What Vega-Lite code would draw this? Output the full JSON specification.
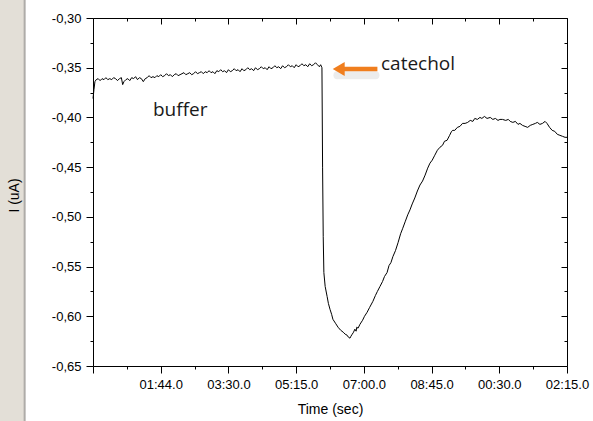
{
  "$schema": "https://vega.github.io/schema/vega-lite/v6.json",
  "width": 474,
  "height": 348,
  "autosize": {"type": "none"},
  "padding": {"left": 93, "top": 18, "right": 26, "bottom": 55},
  "background": "white",
  "view": {"stroke": null},
  "config": {
    "axis": {
      "domainColor": "#000000",
      "tickColor": "#000000",
      "labelColor": "#000000",
      "titleColor": "#000000",
      "labelFont": "Liberation Sans",
      "titleFont": "Liberation Sans",
      "labelFontSize": 13,
      "titleFontSize": 14,
      "titleFontWeight": "normal",
      "grid": false
    }
  },
  "datasets": {
    "trace": [
      {"t": 0, "i": -0.381}, {"t": 1.5, "i": -0.372}, {"t": 3, "i": -0.364}, {"t": 5, "i": -0.362},
      {"t": 8, "i": -0.361}, {"t": 11, "i": -0.363}, {"t": 14, "i": -0.361}, {"t": 17, "i": -0.362},
      {"t": 20, "i": -0.36}, {"t": 23, "i": -0.362}, {"t": 26, "i": -0.361}, {"t": 29, "i": -0.362},
      {"t": 32, "i": -0.36}, {"t": 35, "i": -0.361}, {"t": 38, "i": -0.363}, {"t": 41, "i": -0.361},
      {"t": 44, "i": -0.36}, {"t": 46, "i": -0.367}, {"t": 48, "i": -0.364}, {"t": 51, "i": -0.362},
      {"t": 54, "i": -0.361}, {"t": 57, "i": -0.363}, {"t": 60, "i": -0.36}, {"t": 63, "i": -0.361},
      {"t": 66, "i": -0.359}, {"t": 69, "i": -0.362}, {"t": 72, "i": -0.36}, {"t": 75, "i": -0.361},
      {"t": 78, "i": -0.364}, {"t": 81, "i": -0.361}, {"t": 84, "i": -0.36}, {"t": 87, "i": -0.358},
      {"t": 90, "i": -0.36}, {"t": 93, "i": -0.359}, {"t": 96, "i": -0.36}, {"t": 99, "i": -0.358},
      {"t": 102, "i": -0.359}, {"t": 105, "i": -0.357}, {"t": 108, "i": -0.359}, {"t": 111, "i": -0.358},
      {"t": 114, "i": -0.356}, {"t": 117, "i": -0.358}, {"t": 120, "i": -0.357}, {"t": 123, "i": -0.359},
      {"t": 126, "i": -0.357}, {"t": 129, "i": -0.356}, {"t": 132, "i": -0.358}, {"t": 135, "i": -0.357},
      {"t": 138, "i": -0.356}, {"t": 141, "i": -0.355}, {"t": 144, "i": -0.357}, {"t": 147, "i": -0.356},
      {"t": 150, "i": -0.355}, {"t": 153, "i": -0.357}, {"t": 156, "i": -0.356}, {"t": 159, "i": -0.354},
      {"t": 162, "i": -0.356}, {"t": 165, "i": -0.355}, {"t": 168, "i": -0.354}, {"t": 171, "i": -0.356},
      {"t": 174, "i": -0.354}, {"t": 177, "i": -0.355}, {"t": 180, "i": -0.353}, {"t": 183, "i": -0.355},
      {"t": 186, "i": -0.354}, {"t": 189, "i": -0.356}, {"t": 192, "i": -0.353}, {"t": 195, "i": -0.354},
      {"t": 198, "i": -0.352}, {"t": 201, "i": -0.354}, {"t": 204, "i": -0.353}, {"t": 207, "i": -0.355},
      {"t": 210, "i": -0.352}, {"t": 213, "i": -0.354}, {"t": 216, "i": -0.353}, {"t": 219, "i": -0.351},
      {"t": 222, "i": -0.353}, {"t": 225, "i": -0.352}, {"t": 228, "i": -0.354}, {"t": 231, "i": -0.351},
      {"t": 234, "i": -0.353}, {"t": 237, "i": -0.352}, {"t": 240, "i": -0.35}, {"t": 243, "i": -0.352},
      {"t": 246, "i": -0.351}, {"t": 249, "i": -0.353}, {"t": 252, "i": -0.35}, {"t": 255, "i": -0.352},
      {"t": 258, "i": -0.351}, {"t": 261, "i": -0.349}, {"t": 264, "i": -0.351}, {"t": 267, "i": -0.35},
      {"t": 270, "i": -0.352}, {"t": 273, "i": -0.349}, {"t": 276, "i": -0.351}, {"t": 279, "i": -0.35},
      {"t": 282, "i": -0.348}, {"t": 285, "i": -0.35}, {"t": 288, "i": -0.349}, {"t": 291, "i": -0.351},
      {"t": 294, "i": -0.348}, {"t": 297, "i": -0.35}, {"t": 300, "i": -0.349}, {"t": 303, "i": -0.347},
      {"t": 306, "i": -0.349}, {"t": 309, "i": -0.348}, {"t": 312, "i": -0.35}, {"t": 315, "i": -0.347},
      {"t": 318, "i": -0.349}, {"t": 321, "i": -0.348}, {"t": 324, "i": -0.346}, {"t": 327, "i": -0.348},
      {"t": 330, "i": -0.347}, {"t": 333, "i": -0.349}, {"t": 336, "i": -0.346}, {"t": 339, "i": -0.348},
      {"t": 342, "i": -0.347}, {"t": 345, "i": -0.345}, {"t": 348, "i": -0.347}, {"t": 351, "i": -0.349},
      {"t": 353, "i": -0.347}, {"t": 355, "i": -0.35}, {"t": 356, "i": -0.45}, {"t": 357, "i": -0.52},
      {"t": 358, "i": -0.556}, {"t": 360, "i": -0.57}, {"t": 363, "i": -0.58}, {"t": 365, "i": -0.587},
      {"t": 367.5, "i": -0.593}, {"t": 370, "i": -0.598}, {"t": 372, "i": -0.603}, {"t": 376, "i": -0.607},
      {"t": 380, "i": -0.611}, {"t": 384, "i": -0.614}, {"t": 388, "i": -0.616}, {"t": 391, "i": -0.618},
      {"t": 394, "i": -0.619}, {"t": 396, "i": -0.621}, {"t": 398.5, "i": -0.622}, {"t": 400, "i": -0.62},
      {"t": 402, "i": -0.618}, {"t": 404, "i": -0.616}, {"t": 406, "i": -0.613}, {"t": 408, "i": -0.615},
      {"t": 409, "i": -0.611}, {"t": 411, "i": -0.612}, {"t": 414, "i": -0.608}, {"t": 418, "i": -0.604},
      {"t": 421, "i": -0.6}, {"t": 425, "i": -0.596}, {"t": 429, "i": -0.591}, {"t": 434, "i": -0.585},
      {"t": 438, "i": -0.579}, {"t": 441, "i": -0.575}, {"t": 445, "i": -0.57}, {"t": 449, "i": -0.565},
      {"t": 452, "i": -0.56}, {"t": 456, "i": -0.556}, {"t": 459, "i": -0.549}, {"t": 462, "i": -0.546},
      {"t": 465, "i": -0.54}, {"t": 469, "i": -0.534}, {"t": 473, "i": -0.526}, {"t": 477, "i": -0.517},
      {"t": 480, "i": -0.512}, {"t": 484, "i": -0.505}, {"t": 488, "i": -0.498}, {"t": 491.5, "i": -0.493},
      {"t": 495, "i": -0.487}, {"t": 499, "i": -0.481}, {"t": 503, "i": -0.474}, {"t": 507, "i": -0.468},
      {"t": 511, "i": -0.464}, {"t": 515, "i": -0.458}, {"t": 519, "i": -0.451}, {"t": 522.5, "i": -0.446},
      {"t": 526, "i": -0.443}, {"t": 530, "i": -0.438}, {"t": 534, "i": -0.433}, {"t": 538, "i": -0.43},
      {"t": 542, "i": -0.428}, {"t": 545, "i": -0.424}, {"t": 549, "i": -0.423}, {"t": 553, "i": -0.418},
      {"t": 556, "i": -0.414}, {"t": 558, "i": -0.413}, {"t": 561, "i": -0.413}, {"t": 565, "i": -0.41},
      {"t": 569, "i": -0.409}, {"t": 573, "i": -0.406}, {"t": 577, "i": -0.406}, {"t": 581, "i": -0.405},
      {"t": 585, "i": -0.403}, {"t": 589, "i": -0.404}, {"t": 592, "i": -0.401}, {"t": 596, "i": -0.402},
      {"t": 600, "i": -0.4}, {"t": 603, "i": -0.401}, {"t": 607, "i": -0.399}, {"t": 611, "i": -0.401},
      {"t": 616, "i": -0.4}, {"t": 620, "i": -0.402}, {"t": 624, "i": -0.401}, {"t": 628, "i": -0.403},
      {"t": 631, "i": -0.402}, {"t": 635, "i": -0.402}, {"t": 640, "i": -0.403}, {"t": 644, "i": -0.402},
      {"t": 647, "i": -0.404}, {"t": 651, "i": -0.405}, {"t": 655, "i": -0.404}, {"t": 659, "i": -0.407},
      {"t": 662, "i": -0.406}, {"t": 666, "i": -0.408}, {"t": 670, "i": -0.409}, {"t": 674, "i": -0.41},
      {"t": 678, "i": -0.408}, {"t": 682, "i": -0.407}, {"t": 686, "i": -0.406}, {"t": 689, "i": -0.405},
      {"t": 693, "i": -0.407}, {"t": 697, "i": -0.406}, {"t": 701, "i": -0.404}, {"t": 704, "i": -0.406},
      {"t": 708, "i": -0.41}, {"t": 712, "i": -0.413}, {"t": 716, "i": -0.414}, {"t": 720, "i": -0.417},
      {"t": 724, "i": -0.418}, {"t": 728, "i": -0.419}, {"t": 732, "i": -0.42}, {"t": 735, "i": -0.42}
    ]
  },
  "resolve": {"axis": {"x": "independent", "y": "independent"}},
  "layer": [
    {
      "data": {"values": [{"x1": -150, "x2": -106, "y1": -0.27, "y2": -0.72}]},
      "mark": {"type": "rect", "color": "#e3dfd7", "stroke": "#aeaca8", "strokeWidth": 2},
      "encoding": {
        "x": {"field": "x1", "type": "quantitative", "scale": {"domain": [0, 735], "nice": false, "zero": false}, "axis": null},
        "x2": {"field": "x2"},
        "y": {"field": "y1", "type": "quantitative", "scale": {"domain": [-0.65, -0.3], "nice": false, "zero": false}, "axis": null},
        "y2": {"field": "y2"}
      }
    },
    {
      "data": {"name": "trace"},
      "mark": {"type": "line", "color": "#000000", "strokeWidth": 1},
      "encoding": {
        "x": {
          "field": "t", "type": "quantitative",
          "scale": {"domain": [0, 735], "nice": false, "zero": false},
          "axis": {
            "orient": "bottom",
            "title": "Time (sec)",
            "zindex": 2,
            "values": [0, 52.5, 105, 157.5, 210, 262.5, 315, 367.5, 420, 472.5, 525, 577.5, 630, 682.5, 735],
            "labelExpr": "datum.value==105?'01:44.0':datum.value==210?'03:30.0':datum.value==315?'05:15.0':datum.value==420?'07:00.0':datum.value==525?'08:45.0':datum.value==630?'00:30.0':datum.value==735?'02:15.0':''",
            "tickSize": {"condition": {"test": "datum.value % 105 == 0", "value": 7}, "value": 3},
            "labelPadding": 5,
            "labelFlush": false,
            "labelOverlap": false,
            "titlePadding": 11
          }
        },
        "y": {
          "field": "i", "type": "quantitative",
          "scale": {"domain": [-0.65, -0.3], "nice": false, "zero": false},
          "axis": {
            "orient": "left",
            "title": "I (uA)",
            "zindex": 2,
            "values": [-0.65, -0.625, -0.6, -0.575, -0.55, -0.525, -0.5, -0.475, -0.45, -0.425, -0.4, -0.375, -0.35, -0.325, -0.3],
            "labelExpr": "abs(round(datum.value*1000)) % 50 == 0 ? '-' + replace(format(abs(datum.value), '.2f'), '.', ',') : ''",
            "tickSize": {"condition": {"test": "abs(round(datum.value*1000)) % 50 == 0", "value": 7}, "value": 3},
            "labelPadding": 5,
            "labelFlush": false,
            "labelOverlap": false,
            "titleX": -72,
            "titleY": 177
          }
        }
      }
    },
    {
      "data": {"values": [{"x1": 379, "x2": 438, "y": -0.3575}]},
      "mark": {"type": "rule", "color": "#a0a0a0", "strokeWidth": 8, "opacity": 0.2, "strokeCap": "round"},
      "encoding": {
        "x": {"field": "x1", "type": "quantitative", "scale": {"domain": [0, 735], "nice": false, "zero": false},
          "axis": {"orient": "top", "title": null, "zindex": 2, "values": [0, 52.5, 105, 157.5, 210, 262.5, 315, 367.5, 420, 472.5, 525, 577.5, 630, 682.5, 735], "labels": false,
            "tickSize": {"condition": {"test": "datum.value % 105 == 0", "value": -6}, "value": -3}}},
        "x2": {"field": "x2"},
        "y": {"field": "y", "type": "quantitative", "scale": {"domain": [-0.65, -0.3], "nice": false, "zero": false},
          "axis": {"orient": "right", "title": null, "zindex": 2, "values": [-0.65, -0.625, -0.6, -0.575, -0.55, -0.525, -0.5, -0.475, -0.45, -0.425, -0.4, -0.375, -0.35, -0.325, -0.3], "labels": false,
            "tickSize": {"condition": {"test": "abs(round(datum.value*1000)) % 50 == 0", "value": -6}, "value": -3}}}
      }
    },
    {
      "data": {"values": [{"x1": 388, "x2": 441, "y": -0.3513}]},
      "mark": {"type": "rule", "color": "#f07e1e", "strokeWidth": 4.5},
      "encoding": {
        "x": {"field": "x1", "type": "quantitative", "axis": null},
        "x2": {"field": "x2"},
        "y": {"field": "y", "type": "quantitative", "axis": null}
      }
    },
    {
      "data": {"values": [{"x": 381, "y": -0.3513}]},
      "mark": {"type": "point", "shape": "triangle-left", "filled": true, "color": "#f07e1e", "size": 190, "opacity": 1},
      "encoding": {
        "x": {"field": "x", "type": "quantitative", "axis": null},
        "y": {"field": "y", "type": "quantitative", "axis": null}
      }
    },
    {
      "data": {"values": [{"x": 446.6, "y": -0.3523, "label": "catechol"}, {"x": 93, "y": -0.3986, "label": "buffer"}]},
      "mark": {"type": "text", "align": "left", "baseline": "alphabetic", "font": "Open Sans", "fontSize": 19, "color": "#1a1a1a"},
      "encoding": {
        "x": {"field": "x", "type": "quantitative", "axis": null},
        "y": {"field": "y", "type": "quantitative", "axis": null},
        "text": {"field": "label"}
      }
    }
  ]
}
